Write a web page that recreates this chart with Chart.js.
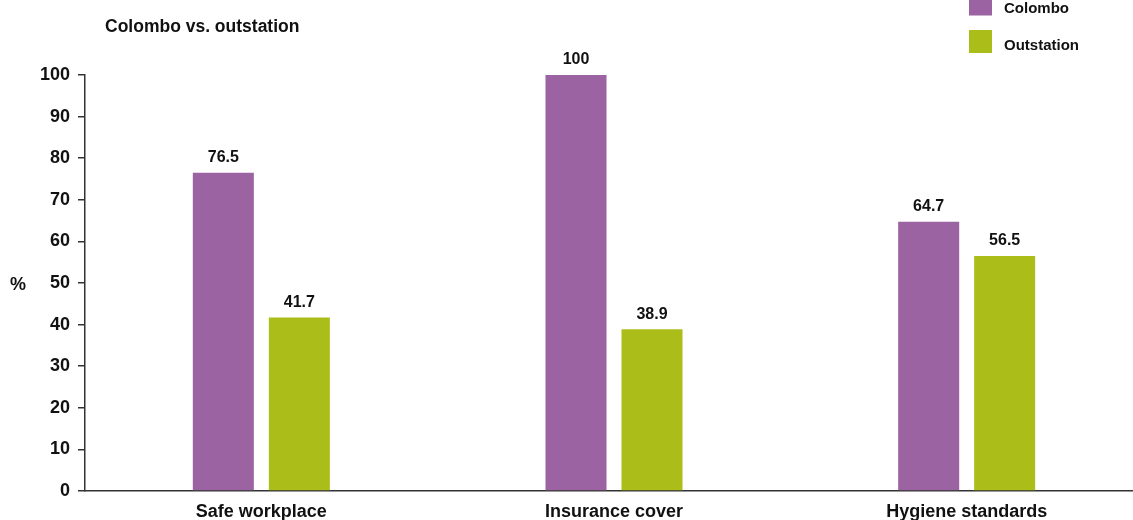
<!DOCTYPE html>
<html>
<head>
<meta charset="utf-8">
<script src="https://cdn.jsdelivr.net/npm/chart.js@4/dist/chart.umd.min.js"></script>
<style>
  html, body { margin: 0; padding: 0; background: #fff; overflow: hidden; }
  #wrap { width: 1144px; height: 520px; }
</style>
</head>
<body>
<div id="wrap"><canvas id="c" width="1144" height="520"></canvas></div>
<script>
const categories = ['Safe workplace', 'Insurance cover', 'Hygiene standards'];
const seriesNames = ['Colombo', 'Outstation'];
const colombo = [76.5, 100, 64.7];
const outstation = [41.7, 38.9, 56.5];
const chartTitle = 'Colombo vs. outstation';
const yAxisTitle = '%';
const yMin = 0, yMax = 100, yStep = 10;

const FONT = "'Liberation Sans', Arial, sans-serif";
const PURPLE = '#9B63A1';
const GREEN = '#ABBD18';
const AXIS = '#333333';

const overlay = {
  id: 'overlay',
  afterDatasetsDraw(chart) {
    const ctx = chart.ctx;
    ctx.save();
    ctx.fillStyle = '#111';
    // title
    ctx.font = 'bold 17.5px ' + FONT;
    ctx.textAlign = 'left';
    ctx.textBaseline = 'middle';
    ctx.fillText(chartTitle, 105, 27);
    // y axis title
    ctx.font = 'bold 18px ' + FONT;
    ctx.fillText(yAxisTitle, 10, 285);
    // legend
    const legY = [8.5, 46];
    chart.data.datasets.forEach((ds, i) => {
      ctx.fillStyle = ds.backgroundColor;
      ctx.fillRect(969, legY[i] - 16, 23, 23);
      ctx.fillStyle = '#111';
      ctx.font = 'bold 15px ' + FONT;
      ctx.fillText(ds.label, 1004, legY[i]);
    });
    // data labels
    ctx.font = 'bold 16px ' + FONT;
    ctx.textAlign = 'center';
    chart.data.datasets.forEach((ds, i) => {
      const meta = chart.getDatasetMeta(i);
      meta.data.forEach((bar, j) => {
        ctx.fillText(String(ds.data[j]), bar.x, bar.y - 15);
      });
    });
    ctx.restore();
  }
};

new Chart(document.getElementById('c'), {
  type: 'bar',
  data: {
    labels: categories,
    datasets: [
      { label: seriesNames[0], data: colombo, backgroundColor: PURPLE },
      { label: seriesNames[1], data: outstation, backgroundColor: GREEN }
    ]
  },
  options: {
    responsive: false,
    animation: false,
    devicePixelRatio: 1,
    layout: { padding: { top: 75, right: 1, left: 0, bottom: 0 } },
    categoryPercentage: 0.431,
    barPercentage: 0.803,
    plugins: { legend: { display: false }, tooltip: { enabled: false } },
    scales: {
      x: {
        grid: { display: false },
        border: { display: true, color: AXIS, width: 1.5 },
        ticks: { color: '#111', font: { family: FONT, size: 18, weight: 'bold' }, padding: 2, maxRotation: 0 },
        afterFit(s) { s.height = 29; }
      },
      y: {
        min: yMin, max: yMax,
        grid: { drawOnChartArea: false, drawTicks: true, tickLength: 7, color: AXIS, lineWidth: 1.5 },
        border: { display: true, color: AXIS, width: 1.5 },
        ticks: { stepSize: yStep, color: '#111', font: { family: FONT, size: 18, weight: 'bold' }, padding: 8 },
        afterFit(s) { s.width = 85; }
      }
    }
  },
  plugins: [overlay]
});
</script>
</body>
</html>
